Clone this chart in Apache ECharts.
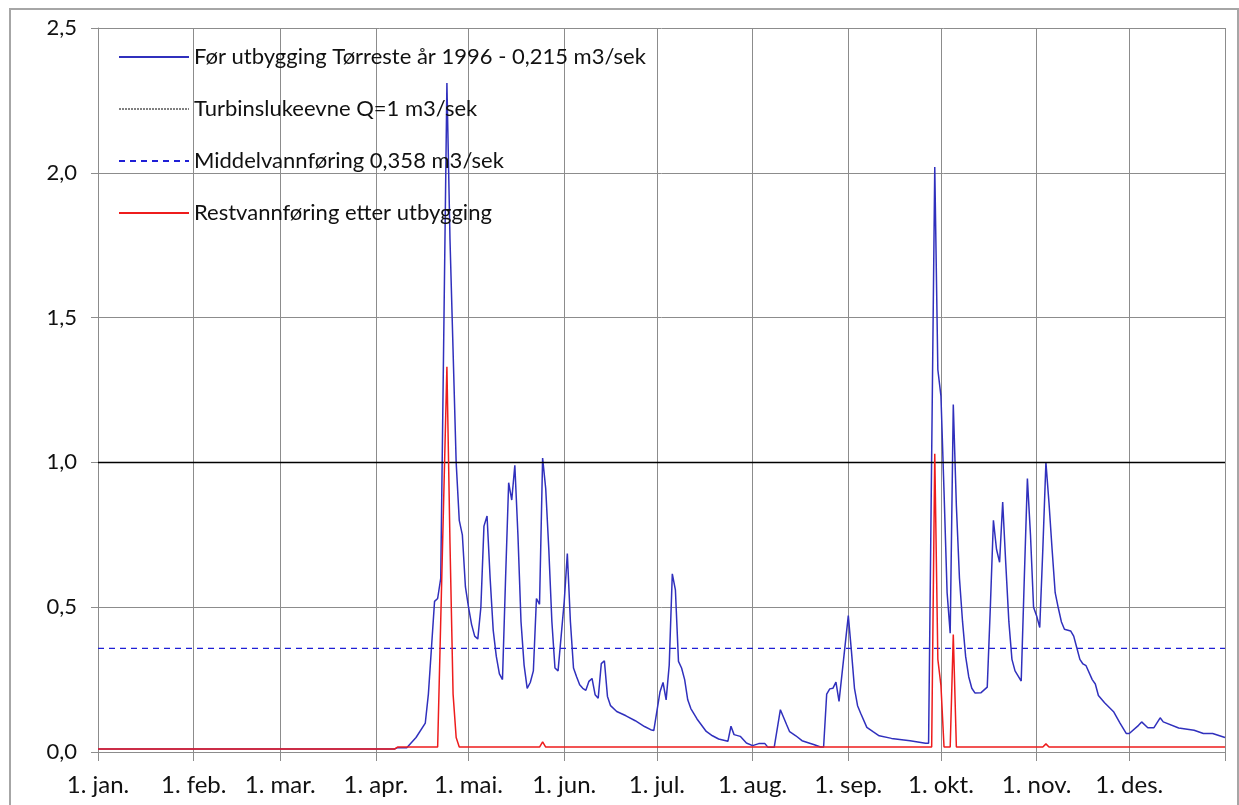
<!DOCTYPE html>
<html><head><meta charset="utf-8">
<script src="https://cdn.jsdelivr.net/npm/echarts@6/dist/echarts.min.js"></script>
<style>
html,body{margin:0;padding:0;background:#fff;overflow:hidden}
#frame{position:absolute;left:9px;top:8px;width:1230px;height:820px;border:2px solid #a6a6a6;box-sizing:border-box}
#chart{position:absolute;left:0;top:0;width:1239px;height:805px}
</style>
</head><body><div id="frame"></div><div id="chart"></div>
<script>
// Tick labels
const monthLabels = ['1. jan.','1. feb.','1. mar.','1. apr.','1. mai.','1. jun.','1. jul.','1. aug.','1. sep.','1. okt.','1. nov.','1. des.'];
const monthStartDays = [0,31,59,90,120,151,181,212,243,273,304,334,365];
const seriesNames = [
  'Før utbygging Tørreste år 1996 - 0,215 m3/sek',
  'Turbinslukeevne Q=1 m3/sek',
  'Middelvannføring 0,358 m3/sek',
  'Restvannføring etter utbygging'
];
// [day of year, m3/s]
const forUtbygging = [
  [0,0.01],[96,0.01],[97,0.015],[100,0.015],[103,0.05],[106,0.1],[107,0.2],[108,0.36],[109,0.52],[110,0.53],[111,0.6],
  [113,2.31],[114,1.77],[116,1.0],[117,0.8],[118,0.75],[119,0.57],[120,0.5],[121,0.44],[122,0.4],[123,0.39],[124,0.5],
  [125,0.78],[126,0.815],[127,0.6],[128,0.42],[129,0.33],[130,0.27],[131,0.25],[132,0.6],[133,0.93],[134,0.87],[135,0.99],
  [136,0.75],[137,0.45],[138,0.3],[139,0.22],[140,0.24],[141,0.28],[142,0.53],[143,0.51],[144,1.015],[145,0.91],[146,0.7],
  [147,0.45],[148,0.29],[149,0.28],[150,0.4],[151,0.52],[152,0.685],[153,0.45],[154,0.29],[155,0.26],[156,0.232],[157,0.22],
  [158,0.213],[159,0.244],[160,0.254],[161,0.198],[162,0.186],[163,0.305],[164,0.315],[165,0.192],[166,0.16],[168,0.14],
  [171,0.125],[174,0.108],[177,0.088],[179,0.077],[180,0.074],[182,0.207],[183,0.24],[184,0.18],[185,0.3],[186,0.615],
  [187,0.56],[188,0.313],[189,0.29],[190,0.25],[191,0.18],[192,0.15],[194,0.114],[197,0.071],[199,0.056],[201,0.045],
  [204,0.037],[205,0.089],[206,0.06],[208,0.054],[210,0.031],[212,0.022],[214,0.029],[216,0.029],[217,0.016],[219,0.016],
  [221,0.146],[223,0.095],[224,0.07],[226,0.056],[228,0.039],[232,0.025],[234,0.017],[235,0.017],[236,0.2],[237,0.218],
  [238,0.22],[239,0.241],[240,0.175],[243,0.471],[244,0.35],[245,0.22],[246,0.16],[247,0.134],[249,0.085],[251,0.07],
  [253,0.056],[257,0.047],[263,0.039],[268,0.03],[269,0.03],[271,2.02],[272,1.32],[273,1.23],[274,0.9],[275,0.55],
  [276,0.41],[277,1.2],[278,0.85],[279,0.6],[280,0.45],[281,0.33],[282,0.26],[283,0.22],[284,0.204],[286,0.205],
  [288,0.224],[289,0.5],[290,0.8],[291,0.7],[292,0.655],[293,0.863],[294,0.65],[295,0.45],[296,0.32],[297,0.28],
  [299,0.245],[300,0.6],[301,0.944],[302,0.75],[303,0.5],[304,0.47],[305,0.43],[306,0.7],[307,1.0],[308,0.86],[309,0.7],
  [310,0.55],[311,0.498],[312,0.45],[313,0.424],[315,0.418],[316,0.4],[317,0.36],[318,0.32],[319,0.304],[320,0.298],
  [322,0.25],[323,0.235],[324,0.195],[326,0.17],[329,0.138],[331,0.1],[333,0.064],[334,0.064],[337,0.092],[338,0.104],
  [340,0.084],[342,0.084],[344,0.118],[345,0.104],[350,0.083],[355,0.075],[358,0.064],[361,0.064],[365,0.05]
];
const restvannforing = [
  [0,0.01],[96,0.01],[97,0.017],[110,0.017],[113,1.33],[114,0.72],[115,0.2],[116,0.05],[117,0.017],[143,0.017],
  [144,0.035],[145,0.017],[270,0.017],[271,1.03],[272,0.32],[273,0.23],[274,0.017],[276,0.017],[277,0.406],[278,0.017],
  [306,0.017],[307,0.028],[308,0.017],[365,0.017]
];
const turbinQ = 1.0;
const middelvannforing = 0.358;
const yMin = 0, yMax = 2.5, yInterval = 0.5;

const FONT = 'Lato';
const days = Array.from({length: 366}, (_, i) => String(i));
const isMonthStart = (i) => monthStartDays.indexOf(i) >= 0;

const chart = echarts.init(document.getElementById('chart'));
chart.setOption({
  animation: false,
  textStyle: {fontFamily: FONT},
  grid: {left: 98, right: 14, top: 28, bottom: 53, containLabel: false},
  legend: {
    orient: 'vertical', left: 113, top: 41,
    itemWidth: 70, itemHeight: 14, itemGap: 30,
    itemStyle: {opacity: 0, borderWidth: 0},
    textStyle: {fontFamily: FONT, fontSize: 22, color: '#111'},
    data: [
      {name: seriesNames[0]},
      {name: seriesNames[1], lineStyle: {type: [2,1], width: 1, color: '#000'}},
      {name: seriesNames[2]},
      {name: seriesNames[3]}
    ]
  },
  xAxis: {
    type: 'category', data: days, boundaryGap: false,
    axisLine: {lineStyle: {color: '#8c8c8c', width: 1}},
    axisTick: {show: true, length: 9, interval: (i) => isMonthStart(i), lineStyle: {color: '#8c8c8c'}},
    splitLine: {show: true, interval: (i) => isMonthStart(i), lineStyle: {color: '#8c8c8c', width: 1}},
    axisLabel: {
      interval: (i) => isMonthStart(i) && i < 365,
      formatter: (v) => { const k = monthStartDays.indexOf(Number(v)); return k >= 0 && k < monthLabels.length ? monthLabels[k] : ''; },
      fontFamily: FONT, fontSize: 24, color: '#111', margin: 21
    }
  },
  yAxis: {
    type: 'value', min: yMin, max: yMax, interval: yInterval,
    axisLine: {show: true, lineStyle: {color: '#8c8c8c'}},
    axisTick: {show: true, length: 7, lineStyle: {color: '#8c8c8c'}},
    splitLine: {show: true, lineStyle: {color: '#8c8c8c', width: 1}},
    axisLabel: {
      formatter: (v) => v.toFixed(1).replace('.', ','),
      fontFamily: FONT, fontSize: 22, color: '#111', margin: 21
    }
  },
  series: [
    {name: seriesNames[0], type: 'line', data: forUtbygging, symbol: 'none', z: 3,
     lineStyle: {color: '#3030bd', width: 1.5}, itemStyle: {color: '#3030bd'}},
    {name: seriesNames[1], type: 'line', data: [[0, turbinQ], [365, turbinQ]], symbol: 'none', z: 4,
     lineStyle: {color: '#000', width: 1.5}, itemStyle: {color: '#000'}},
    {name: seriesNames[2], type: 'line', data: [[0, middelvannforing], [365, middelvannforing]], symbol: 'none', z: 2,
     lineStyle: {color: '#1f1fd6', width: 1.2, type: [6,5]}, itemStyle: {color: '#1f1fd6'}},
    {name: seriesNames[3], type: 'line', data: restvannforing, symbol: 'none', z: 5,
     lineStyle: {color: '#ee1c1c', width: 1.5}, itemStyle: {color: '#ee1c1c'}}
  ]
});
</script>
</body></html>
